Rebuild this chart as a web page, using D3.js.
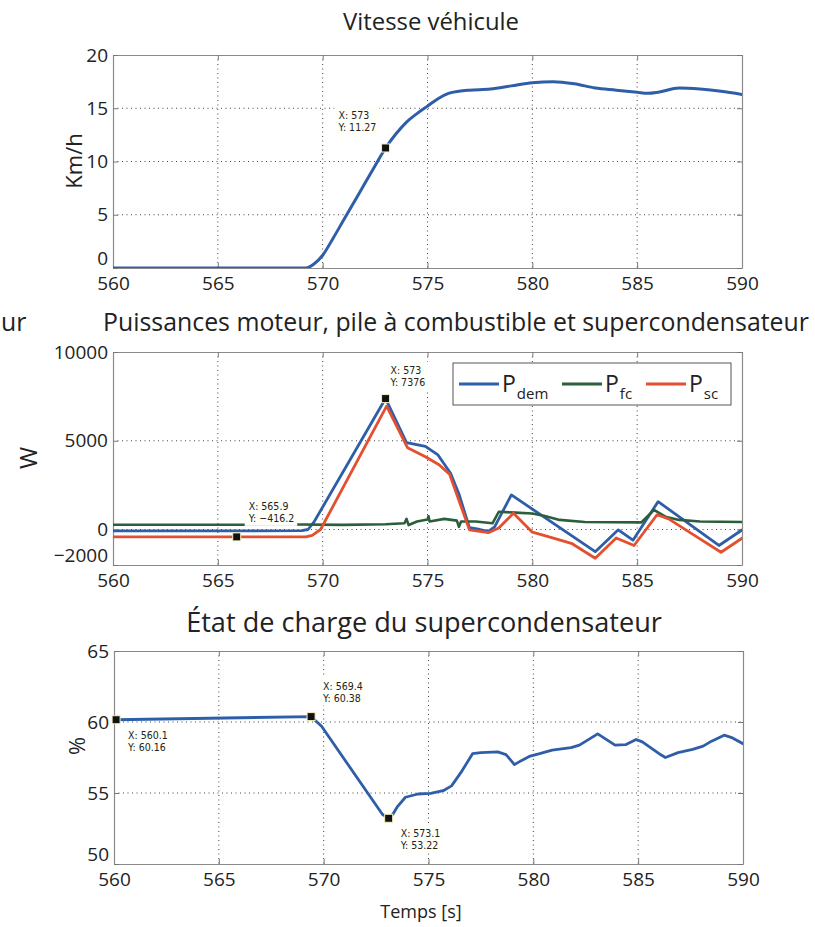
<!DOCTYPE html>
<html><head><meta charset="utf-8">
<script src="https://cdn.jsdelivr.net/npm/d3@7"></script>
<style>body{margin:0;background:#fff} svg{display:block}</style>
</head><body>
<svg id="c" width="815" height="927"></svg>
<script>
// ---------- data ----------
const xTicks = [560, 565, 570, 575, 580, 585, 590];

const speedT = [560, 569.2, 569.6, 570, 570.5, 571, 571.5, 572, 572.5, 573, 573.5, 574, 574.5, 575, 575.5, 576, 576.5, 577, 578, 579, 580, 581, 582, 583, 584, 585, 585.5, 586, 587, 588, 589, 590];
const speedV = [0, 0, 0.4, 1.2, 2.8, 4.5, 6.2, 7.9, 9.6, 11.27, 12.6, 13.7, 14.5, 15.2, 15.9, 16.4, 16.6, 16.7, 16.8, 17.1, 17.4, 17.5, 17.3, 16.9, 16.7, 16.5, 16.4, 16.5, 16.9, 16.8, 16.6, 16.3];
const speedTicks = [0, 5, 10, 15, 20];

const demT = [560, 566.2, 569.0, 569.3, 569.6, 573, 574.0, 574.9, 575.5, 576.1, 576.5, 577.0, 577.5, 577.9, 578.2, 578.4, 579.0, 583.0, 584.1, 584.8, 586.0, 588.9, 590];
const demP = [-80, -80, -60, 0, 450, 7376, 4900, 4680, 4200, 3170, 2000, 100, 0, -100, 150, 600, 1950, -1250, -20, -600, 1570, -900, -30];
const fcT = [560, 566.2, 569, 571, 573, 573.9, 574.0, 574.1, 574.5, 575.0, 575.05, 575.1, 575.8, 576.4, 576.5, 576.6, 577.3, 578.1, 578.4, 579.2, 580.0, 580.6, 581.3, 582.5, 585.2, 585.8, 586.35, 587.0, 588, 590];
const fcP = [270, 270, 280, 260, 300, 350, 600, 250, 450, 560, 750, 450, 600, 500, 150, 450, 450, 350, 1000, 950, 900, 760, 540, 420, 400, 1100, 720, 540, 450, 420];
const scT = [560, 569.2, 569.5, 569.9, 573.05, 574.05, 574.9, 575.55, 576.05, 577.0, 577.9, 578.4, 579.1, 580.0, 580.8, 581.9, 583.0, 584.0, 584.85, 585.95, 586.5, 587.6, 589.0, 590];
const scP = [-416, -416, -330, 0, 6950, 4600, 4100, 3650, 3120, -20, -180, 80, 920, -150, -420, -800, -1620, -480, -900, 830, 600, -230, -1280, -490];
const powerTicks = [-2000, 0, 5000, 10000];

const socT = [560, 560.1, 569.4, 569.9, 572.8, 573.1, 573.3, 573.5, 573.9, 574.5, 575.1, 575.7, 576.1, 576.6, 577.1, 577.5, 578.3, 578.7, 579.1, 579.4, 579.85, 580.3, 580.9, 581.8, 582.2, 583.07, 583.9, 584.4, 584.9, 585.2, 586.1, 586.3, 586.9, 587.6, 588.1, 588.5, 589.1, 589.5, 590];
const socV = [60.16, 60.16, 60.38, 59.7, 53.5, 53.22, 53.5, 54.0, 54.7, 54.93, 54.98, 55.16, 55.5, 56.56, 57.77, 57.84, 57.9, 57.7, 57.0, 57.26, 57.6, 57.77, 58.02, 58.19, 58.37, 59.16, 58.37, 58.4, 58.77, 58.6, 57.67, 57.5, 57.84, 58.07, 58.3, 58.65, 59.07, 58.88, 58.47];
const socTicks = [50, 55, 60, 65];

const legendNames = [["P", "dem"], ["P", "fc"], ["P", "sc"]];
const colors = {dem: "#2f5ea8", fc: "#2b5e3b", sc: "#e4502f"};

// ---------- drawing ----------
const svg = d3.select("#c");
const FONT = "'Open Sans', sans-serif";
const TIPFONT = "'DejaVu Sans Condensed','DejaVu Sans', sans-serif";
svg.append("rect").attr("width", 815).attr("height", 927).attr("fill", "#fff");

let clipN = 0;
function panel(o) {
  const x = d3.scaleLinear().domain([560, 590]).range([o.left, o.right]);
  const y = d3.scaleLinear().domain([o.yticks[0], o.yticks[o.yticks.length - 1]]).range([o.bottom, o.top]);
  const g = svg.append("g");
  const id = "clip" + (clipN++);
  svg.append("defs").append("clipPath").attr("id", id)
    .append("rect").attr("x", o.left).attr("y", o.top).attr("width", o.right - o.left).attr("height", o.bottom - o.top);
  const grid = g.append("g").attr("stroke", "#444").attr("stroke-width", 1).attr("stroke-dasharray", "1,3.5");
  xTicks.slice(1, -1).forEach(t => grid.append("line").attr("x1", x(t)).attr("x2", x(t)).attr("y1", o.top).attr("y2", o.bottom));
  o.yticks.slice(1, -1).forEach(t => grid.append("line").attr("x1", o.left).attr("x2", o.right).attr("y1", y(t)).attr("y2", y(t)));
  const styleAx = (sel, labels) => {
    sel.select(".domain").attr("stroke", "#8a8a8a").attr("stroke-width", 1.2);
    sel.selectAll(".tick line").attr("stroke", "#777");
    sel.selectAll(".tick text").attr("font-family", FONT).attr("font-size", 19).attr("fill", "#222");
    if (!labels) sel.selectAll(".tick text").remove();
  };
  g.append("g").attr("transform", `translate(0,${o.bottom})`)
    .call(d3.axisBottom(x).tickValues(xTicks).tickSize(-5).tickSizeOuter(0).tickPadding(9).tickFormat(d3.format("d")))
    .call(s => styleAx(s, true));
  g.append("g").attr("transform", `translate(0,${o.top})`)
    .call(d3.axisTop(x).tickValues(xTicks).tickSize(-5).tickSizeOuter(0))
    .call(s => styleAx(s, false));
  const ly = g.append("g").attr("transform", `translate(${o.left},0)`)
    .call(d3.axisLeft(y).tickValues(o.yticks).tickSize(-5).tickSizeOuter(0).tickPadding(5).tickFormat(o.fmt || d3.format("d")))
    .call(s => styleAx(s, true));
  // lowest y label sits a little higher, as in the reference
  ly.selectAll(".tick").filter(d => d === o.yticks[0]).select("text").attr("dy", "-0.2em");
  g.append("g").attr("transform", `translate(${o.right},0)`)
    .call(d3.axisRight(y).tickValues(o.yticks).tickSize(-5).tickSizeOuter(0))
    .call(s => styleAx(s, false));
  const plot = g.append("g").attr("clip-path", `url(#${id})`);
  return {x, y, g, plot};
}

function drawLine(p, T, V, color, w, curve) {
  const line = d3.line().x((d, i) => p.x(T[i])).y(d => p.y(d)).curve(curve || d3.curveLinear);
  p.plot.append("path").datum(V).attr("d", line).attr("fill", "none")
    .attr("stroke", color).attr("stroke-width", w).attr("stroke-linejoin", "round").attr("stroke-linecap", "round");
}

function datatip(p, t, v, dx, dy, lines) {
  const cx = p.x(t), cy = p.y(v);
  const tg = svg.append("g");
  const bx = cx + dx, by = cy + dy;
  const txt = tg.append("text").attr("font-family", TIPFONT).attr("font-size", 10.5).attr("fill", "#222");
  lines.forEach((l, i) => txt.append("tspan").attr("x", bx + 3).attr("y", by + 11 + i * 12).text(l));
  const bb = txt.node().getBBox();
  tg.insert("rect", "text").attr("x", bb.x - 3).attr("y", bb.y - 2).attr("width", bb.width + 6).attr("height", bb.height + 4)
    .attr("fill", "#fffffa");
  svg.append("rect").attr("x", cx - 4).attr("y", cy - 4).attr("width", 8).attr("height", 8)
    .attr("fill", "#111").attr("stroke", "#f4f0c0").attr("stroke-width", 1);
}

function fitText(sel, width) {
  const w = sel.node().getComputedTextLength();
  const fs = +sel.attr("font-size");
  sel.attr("font-size", fs * width / w);
}

// ---- Panel 1 ----
const p1 = panel({left: 113, right: 742, top: 55, bottom: 268, yticks: speedTicks});
drawLine(p1, speedT, speedV, colors.dem, 3, d3.curveMonotoneX);
datatip(p1, 573, 11.27, -50, -40, ["X: 573", "Y: 11.27"]);

// ---- Panel 2 ----
const p2 = panel({left: 113, right: 742, top: 352, bottom: 565, yticks: powerTicks, fmt: d => d < 0 ? "\u2212" + Math.abs(d) : d});
drawLine(p2, demT, demP, colors.dem, 2.8);
drawLine(p2, fcT, fcP, colors.fc, 2.6);
drawLine(p2, scT, scP, colors.sc, 2.8);
datatip(p2, 573, 7376, 2, -36, ["X: 573", "Y: 7376"]);
datatip(p2, 565.9, -416.2, 9, -38, ["X: 565.9", "Y: \u2212416.2"]);

// legend
const lg = svg.append("g");
lg.append("rect").attr("x", 453).attr("y", 363).attr("width", 278).attr("height", 42)
  .attr("fill", "#fff").attr("stroke", "#555").attr("stroke-width", 1);
const lx = [459, 562, 646];
[colors.dem, colors.fc, colors.sc].forEach((c, i) => {
  lg.append("line").attr("x1", lx[i]).attr("x2", lx[i] + 40).attr("y1", 384).attr("y2", 384)
    .attr("stroke", c).attr("stroke-width", 3);
  const t = lg.append("text").attr("x", lx[i] + 43).attr("y", 392).attr("font-family", FONT).attr("font-size", 23).attr("fill", "#222");
  t.append("tspan").text(legendNames[i][0]);
  t.append("tspan").attr("font-size", 15).attr("dy", 7).attr("dx", 1).text(legendNames[i][1]);
});

// ---- Panel 3 ----
const p3 = panel({left: 114, right: 743, top: 651, bottom: 864, yticks: socTicks});
drawLine(p3, socT, socV, colors.dem, 2.8);
datatip(p3, 560.1, 60.16, 9, 8, ["X: 560.1", "Y: 60.16"]);
datatip(p3, 569.4, 60.38, 9, -38, ["X: 569.4", "Y: 60.38"]);
datatip(p3, 573.1, 53.22, 9, 8, ["X: 573.1", "Y: 53.22"]);

// ---- titles and labels ----
function title(txt, cx, y, w, fs) {
  const t = svg.append("text").attr("x", cx).attr("y", y).attr("text-anchor", "middle")
    .attr("font-family", FONT).attr("font-size", fs).attr("fill", "#222").text(txt);
  fitText(t, w);
  return t;
}
title("Vitesse véhicule", 431, 30, 176, 22);
const t2 = title("Puissances moteur, pile à combustible et supercondensateur", 456, 331, 706, 24);
title("État de charge du supercondensateur", 424, 632, 476, 24);
svg.append("text").attr("x", 1).attr("y", 331).attr("font-family", FONT).attr("font-size", t2.attr("font-size"))
  .attr("fill", "#222").text("ur");
svg.append("text").attr("x", 421).attr("y", 918).attr("text-anchor", "middle").attr("font-family", FONT)
  .attr("font-size", 18).attr("fill", "#222").text("Temps [s]");

function ylabel(txt, cx, cy, fs) {
  svg.append("text").attr("transform", `translate(${cx + fs * 0.36},${cy}) rotate(-90)`).attr("text-anchor", "middle")
    .attr("font-family", FONT).attr("font-size", fs).attr("fill", "#222").text(txt);
}
ylabel("Km/h", 74, 161, 22);
ylabel("W", 28, 458, 24);
ylabel("%", 77, 746, 22);
</script>
</body></html>
